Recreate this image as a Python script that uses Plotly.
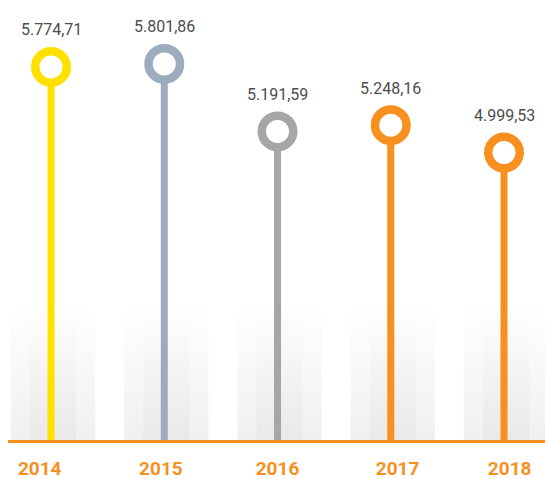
import plotly.graph_objects as go

YEARS = ["2014", "2015", "2016", "2017", "2018"]
VALUES = [5774.71, 5801.86, 5191.59, 5248.16, 4999.53]
VALUE_LABELS = ["5.774,71", "5.801,86", "5.191,59", "5.248,16", "4.999,53"]
COLORS = ["#FFE100", "#9DABBE", "#A6A6A8", "#F7901E", "#F7901E"]

ORANGE = "#F7901E"
Y_RANGE = [2400, 6380]
BAND_TOP = 3620
# small nudges of the year labels relative to the stems, as in the original
TICK_NUDGE = [-0.1, -0.03, 0.0, 0.06, 0.05]

pos = list(range(len(YEARS)))

fig = go.Figure()

# soft grey gradient bands behind each stem
for i in pos:
    for left, right, color in [(-0.355, 0.39, "#F1F0F1"), (-0.185, 0.222, "#EAE8E9")]:
        fig.add_trace(
            go.Scatter(
                x=[i + left, i + right, i + right, i + left, i + left],
                y=[Y_RANGE[0], Y_RANGE[0], BAND_TOP, BAND_TOP, Y_RANGE[0]],
                mode="lines",
                line=dict(width=0),
                fill="toself",
                fillgradient=dict(type="vertical", colorscale=[[0, color], [1, "#FFFFFF"]]),
                hoverinfo="skip",
                showlegend=False,
            )
        )

# stems, from the axis up to each value
for i, v, c in zip(pos, VALUES, COLORS):
    fig.add_trace(
        go.Scatter(
            x=[i, i],
            y=[Y_RANGE[0], v],
            mode="lines",
            line=dict(color=c, width=7),
            hoverinfo="skip",
            showlegend=False,
        )
    )

# ring heads
fig.add_trace(
    go.Scatter(
        x=pos,
        y=VALUES,
        mode="markers",
        marker=dict(size=31.5, color="#FFFFFF", line=dict(color=COLORS, width=8.5)),
        hovertemplate="%{text}<extra></extra>",
        text=VALUE_LABELS,
        showlegend=False,
    )
)

for i, v, label in zip(pos, VALUES, VALUE_LABELS):
    fig.add_annotation(
        x=i,
        y=v,
        text=label,
        yshift=37,
        showarrow=False,
        font=dict(family="Roboto", size=16, color="#4D4D4D"),
    )

fig.update_layout(
    width=545,
    height=479,
    margin=dict(l=8, r=0, t=0, b=39),
    paper_bgcolor="#FFFFFF",
    plot_bgcolor="#FFFFFF",
    xaxis=dict(
        range=[-0.38, 4.362],
        tickvals=[p + n for p, n in zip(pos, TICK_NUDGE)],
        ticktext=YEARS,
        tickfont=dict(family="Roboto", size=19, color=ORANGE, weight="bold"),
        ticks="outside",
        ticklen=9,
        tickcolor="rgba(0,0,0,0)",
        showline=True,
        linecolor=ORANGE,
        linewidth=3,
        showgrid=False,
        zeroline=False,
        fixedrange=True,
    ),
    yaxis=dict(range=Y_RANGE, visible=False, showgrid=False, fixedrange=True),
)

fig.write_html(
    "out.html",
    config={"displayModeBar": False},
    post_script=["document.body.style.margin = '0';"],
)
